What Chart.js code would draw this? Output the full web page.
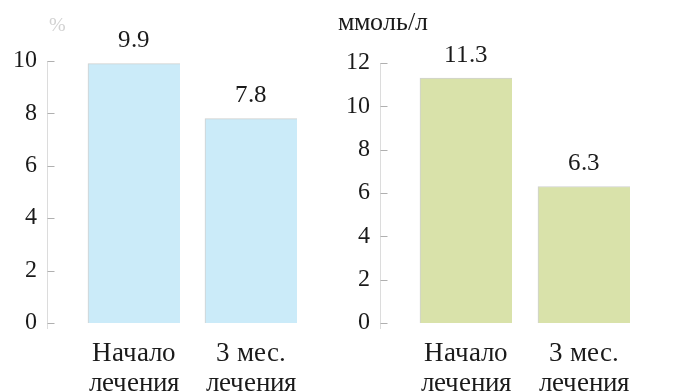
<!DOCTYPE html>
<html>
<head>
<meta charset="utf-8">
<script src="https://cdn.jsdelivr.net/npm/chart.js@4"></script>
<style>
  @font-face {
    font-family: 'ChartSerif';
    src: local('Liberation Serif'), local('LiberationSerif'), local('LiberationSerif-Regular'), local('Times New Roman');
  }
  html, body { margin: 0; padding: 0; background: #fff; }
  #wrap { position: relative; width: 688px; height: 392px; overflow: hidden; font-family: 'ChartSerif', 'Liberation Serif', serif; }
  #hba1c { position: absolute; left: 0; top: 0; }
  #glucose { position: absolute; left: 330px; top: 0; }
  .unit { position: absolute; color: #1a1a1a; line-height: 1; white-space: nowrap; }
</style>
</head>
<body>
<div id="wrap">
  <canvas id="hba1c" width="330" height="392"></canvas>
  <canvas id="glucose" width="358" height="392"></canvas>
  <div class="unit" style="left:49px; top:14px; color:#d2d2d2; font-size:20px;">%</div>
  <div class="unit" style="left:338px; top:9px; font-size:26px;">ммоль/л</div>
</div>
<script>
// Treatment time points shown under each pair of bars
const categories = [
  ['Начало', 'лечения'],
  ['3 мес.', 'лечения']
];
// Left panel, %
const percentValues = [9.9, 7.8];
const percentTicks = [0, 2, 4, 6, 8, 10];
// Right panel, ммоль/л
const mmolValues = [11.3, 6.3];
const mmolTicks = [0, 2, 4, 6, 8, 10, 12];

const FONT = "ChartSerif, 'Liberation Serif', serif";
const INK = '#1a1a1a';

Chart.defaults.font.family = FONT;

// Value printed above each bar
const valueLabels = {
  id: 'valueLabels',
  afterDatasetsDraw(chart) {
    const ctx = chart.ctx;
    const ds = chart.data.datasets[0];
    const meta = chart.getDatasetMeta(0);
    ctx.save();
    ctx.font = '25px ' + FONT;
    ctx.fillStyle = INK;
    ctx.textAlign = 'center';
    ctx.textBaseline = 'middle';
    meta.data.forEach((bar, i) => {
      ctx.fillText(ds.data[i].toFixed(1), bar.x, bar.y - 23);
    });
    ctx.restore();
  }
};

// Value axis line, set a little left of the plotting band, with short inner ticks
const valueAxisLine = {
  id: 'valueAxisLine',
  afterDraw(chart, args, opts) {
    const y = chart.scales.y;
    const ctx = chart.ctx;
    const x = opts.x + 0.5;
    ctx.save();
    ctx.lineWidth = 1;
    ctx.strokeStyle = '#dcdcdc';
    ctx.beginPath();
    ctx.moveTo(x, y.top);
    ctx.lineTo(x, y.bottom + 6);
    ctx.stroke();
    ctx.strokeStyle = '#b0b0b0';
    y.ticks.forEach(t => {
      const py = Math.round(y.getPixelForValue(t.value)) + 0.5;
      ctx.beginPath();
      ctx.moveTo(x, py);
      ctx.lineTo(x + 7, py);
      ctx.stroke();
    });
    ctx.restore();
  }
};

function buildPanel(canvasId, values, tickValues, color, cfg) {
  return new Chart(document.getElementById(canvasId), {
    type: 'bar',
    data: {
      labels: categories,
      datasets: [{
        data: values,
        backgroundColor: color,
        borderColor: 'rgba(150,155,150,0.45)',
        borderWidth: { top: 1, left: 1, right: 0, bottom: 0 },
        borderSkipped: false,
        barThickness: 92
      }]
    },
    options: {
      responsive: false,
      devicePixelRatio: 1,
      animation: false,
      layout: { padding: { top: cfg.top, right: cfg.right, left: 0, bottom: 0 } },
      plugins: {
        legend: { display: false },
        tooltip: { enabled: false },
        valueAxisLine: { x: cfg.axisLine }
      },
      scales: {
        x: {
          afterFit: s => { s.height = 392 - 323; },
          grid: { display: false, drawTicks: false },
          border: { display: false },
          ticks: {
            autoSkip: false,
            maxRotation: 0,
            padding: 16,
            color: INK,
            font: { family: FONT, size: 27, lineHeight: 1.11 }
          }
        },
        y: {
          min: 0,
          max: tickValues[tickValues.length - 1],
          afterBuildTicks: s => { s.ticks = tickValues.map(v => ({ value: v })); },
          afterFit: s => { s.width = cfg.areaLeft; },
          grid: { display: false, drawTicks: false },
          border: { display: false },
          ticks: {
            padding: cfg.labelGap,
            color: INK,
            font: { family: FONT, size: 24 }
          }
        }
      }
    },
    plugins: [valueLabels, valueAxisLine]
  });
}

function drawAll() {
  buildPanel('hba1c', percentValues, percentTicks, 'rgb(203,235,249)', {
    top: 61, right: 20.5, areaLeft: 75.5, labelGap: 38.5, axisLine: 47
  });
  buildPanel('glucose', mmolValues, mmolTicks, 'rgb(217,226,170)', {
    top: 63, right: 45, areaLeft: 77, labelGap: 37, axisLine: 50
  });
}

// Let the serif face finish loading before the canvases paint text
document.fonts.load("24px ChartSerif", 'Начало 0123456789').then(drawAll, drawAll);
</script>
</body>
</html>
